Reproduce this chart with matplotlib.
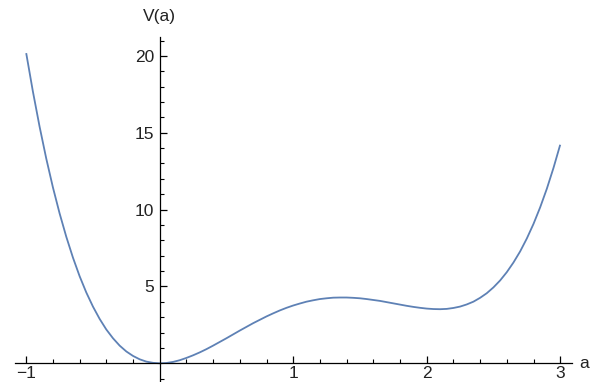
import matplotlib
matplotlib.use("Agg")
import matplotlib.pyplot as plt
from matplotlib.ticker import FixedLocator, FixedFormatter

# Values (a from -1 to 3, step 0.05)
a_vals = [round(-1 + 0.05 * i, 2) for i in range(81)]
v_vals = [20.18, 17.69, 15.41, 13.33, 11.45, 9.76, 8.24, 6.88, 5.67, 4.61,
          3.69, 2.89, 2.20, 1.63, 1.15, 0.77, 0.48, 0.26, 0.11, 0.03,
          0.00, 0.02, 0.09, 0.20, 0.35, 0.52, 0.71, 0.92, 1.15, 1.39,
          1.63, 1.88, 2.13, 2.37, 2.61, 2.83, 3.05, 3.25, 3.44, 3.61,
          3.76, 3.89, 4.01, 4.10, 4.18, 4.23, 4.27, 4.28, 4.28, 4.26,
          4.23, 4.18, 4.12, 4.06, 3.98, 3.90, 3.82, 3.74, 3.67, 3.61,
          3.56, 3.53, 3.52, 3.54, 3.60, 3.69, 3.83, 4.01, 4.26, 4.56,
          4.94, 5.39, 5.93, 6.56, 7.28, 8.12, 9.07, 10.15, 11.36, 12.72,
          14.22]

x_major = [-1, 1, 2, 3]
x_labels = ["\u22121", "1", "2", "3"]
y_major = [5, 10, 15, 20]
y_labels = ["5", "10", "15", "20"]

plt.rcParams['font.family'] = ['Liberation Sans', 'DejaVu Sans']

fig = plt.figure(figsize=(6.02, 3.82), dpi=100)
ax = fig.add_axes([0, 0, 1, 1])
ax.patch.set_visible(False)

ax.plot(a_vals, v_vals, color=(0.368417, 0.506779, 0.709798), lw=1.3,
        solid_capstyle='butt', clip_on=False)

# pixel mapping: x0 at 159.7 px, 133.5 px/unit; y0 at 363.3 px, 15.37 px/unit
ax.set_xlim(-159.7 / 133.5, (602 - 159.7) / 133.5)
ax.set_ylim((363.3 - 382) / 15.37, 363.3 / 15.37)

for s in ['top', 'right']:
    ax.spines[s].set_visible(False)
ax.spines['left'].set_position(('data', 0))
ax.spines['bottom'].set_position(('data', 0))
ax.spines['bottom'].set_bounds(-1.084, 3.086)
ax.spines['left'].set_bounds(-1.3, 21.2)
for s in ['left', 'bottom']:
    ax.spines[s].set_linewidth(0.9)
    ax.spines[s].set_color('black')

ax.xaxis.set_major_locator(FixedLocator(x_major))
ax.xaxis.set_major_formatter(FixedFormatter(x_labels))
ax.xaxis.set_minor_locator(FixedLocator([round(-1 + 0.2 * i, 1) for i in range(21) if (i % 5) != 0]))
ax.yaxis.set_major_locator(FixedLocator(y_major))
ax.yaxis.set_major_formatter(FixedFormatter(y_labels))
ax.yaxis.set_minor_locator(FixedLocator([v for v in range(-1, 22) if v % 5 != 0]))

ax.tick_params(axis='x', which='major', direction='in', length=5, width=0.9,
               labelsize=12.5, pad=2, colors='black')
ax.tick_params(axis='x', which='minor', direction='in', length=3, width=0.8)
ax.tick_params(axis='y', which='major', direction='in', length=5, width=0.9,
               labelsize=12.5, pad=4, colors='black')
ax.tick_params(axis='y', which='minor', direction='in', length=3, width=0.8)
for lbl in ax.get_xticklabels() + ax.get_yticklabels():
    lbl.set_color('#222222')

ax.text(0, 22.1, "V(a)", ha='center', va='bottom', fontsize=12.5, color='#222222')
ax.text(3.14, 0, "a", ha='left', va='center', fontsize=12.5, color='#222222')

fig.savefig("out.png", dpi=100)
